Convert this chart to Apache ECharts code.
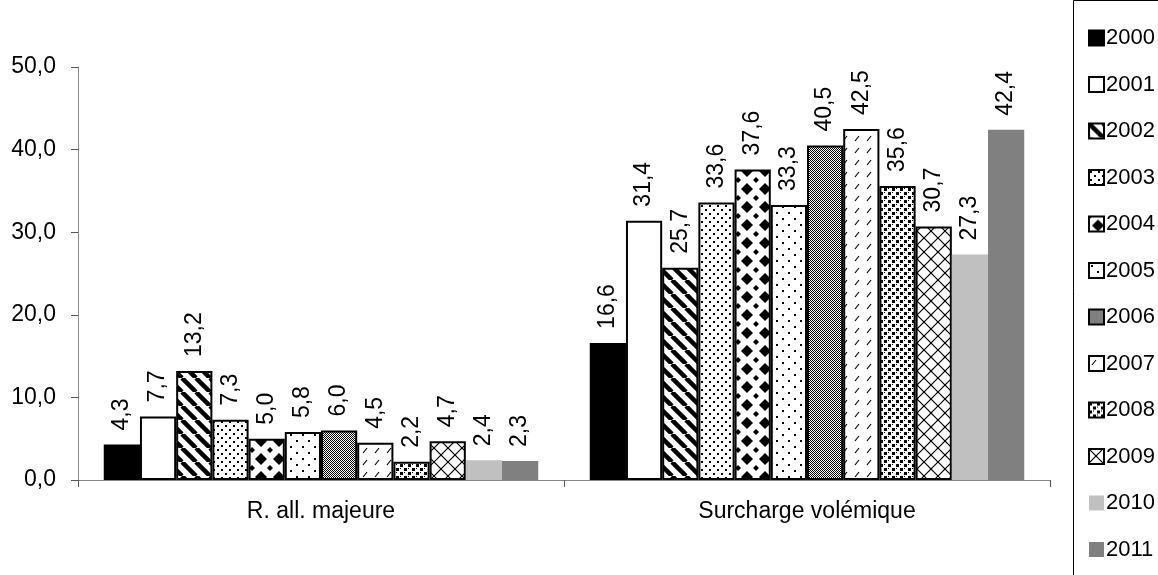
<!DOCTYPE html>
<html><head><meta charset="utf-8">
<script src="https://cdn.jsdelivr.net/npm/echarts@6/dist/echarts.min.js"></script>
<style>html,body{margin:0;padding:0;background:#fff}#c{width:1158px;height:575px}</style>
</head><body><div id="c"></div>
<script>
const categories = ['R. all. majeure', 'Surcharge volémique'];
const years = ['2000','2001','2002','2003','2004','2005','2006','2007','2008','2009','2010','2011'];
const v2000 = [4.3, 16.6];
const v2001 = [7.7, 31.4];
const v2002 = [13.2, 25.7];
const v2003 = [7.3, 33.6];
const v2004 = [5.0, 37.6];
const v2005 = [5.8, 33.3];
const v2006 = [6.0, 40.5];
const v2007 = [4.5, 42.5];
const v2008 = [2.2, 35.6];
const v2009 = [4.7, 30.7];
const v2010 = [2.4, 27.3];
const v2011 = [2.3, 42.4];
const yTicks = [0, 10, 20, 30, 40, 50];
const values = [v2000,v2001,v2002,v2003,v2004,v2005,v2006,v2007,v2008,v2009,v2010,v2011];

function tile(w, h, draw) {
  const c = document.createElement('canvas');
  c.width = w; c.height = h;
  const g = c.getContext('2d');
  g.fillStyle = '#fff'; g.fillRect(0, 0, w, h);
  g.fillStyle = '#000'; g.strokeStyle = '#000';
  draw(g);
  return { image: c, repeat: 'repeat' };
}
const fills = [
  '#000',
  '#fff',
  tile(14, 14, g => {
    g.lineWidth = 4.5;
    for (let k = -14; k <= 28; k += 14) { g.beginPath(); g.moveTo(k, 0); g.lineTo(k + 14, 14); g.stroke(); }
  }),
  tile(8, 8, g => { g.fillRect(1, 1, 2, 2); g.fillRect(5, 5, 2, 2); }),
  tile(18, 18, g => {
    const dia = (x, y, r) => { g.beginPath(); g.moveTo(x, y - r); g.lineTo(x + r, y); g.lineTo(x, y + r); g.lineTo(x - r, y); g.closePath(); g.fill(); };
    dia(9, 9, 6);
    dia(0, 0, 3); dia(18, 0, 3); dia(0, 18, 3); dia(18, 18, 3);
  }),
  tile(12, 12, g => { g.fillRect(2, 2, 2, 2); g.fillRect(8, 8, 2, 2); }),
  tile(2, 2, g => { g.fillRect(0, 0, 1, 1); g.fillRect(1, 1, 1, 1); }),
  tile(12, 12, g => { g.lineWidth = 1.2; g.beginPath(); g.moveTo(3, 9); g.lineTo(7, 4); g.stroke(); }),
  tile(8, 8, g => { g.fillRect(0, 0, 3, 3); g.fillRect(4, 4, 3, 3); g.fillRect(4, 0, 1, 1); g.fillRect(0, 4, 1, 1); }),
  tile(14, 14, g => {
    g.lineWidth = 1.2;
    g.beginPath(); g.moveTo(0, 14); g.lineTo(14, 0); g.stroke();
    g.beginPath(); g.moveTo(0, 0); g.lineTo(14, 14); g.stroke();
  }),
  '#c0c0c0',
  '#808080'
];
const FONT = 'Liberation Sans';
const fmt = v => v.toFixed(1).replace('.', ',');

const series = years.map((y, i) => ({
  name: y,
  type: 'bar',
  data: values[i],
  barGap: '0%',
  barCategoryGap: '10.6%',
  itemStyle: {
    color: fills[i],
    borderColor: i >= 10 ? 'transparent' : '#000',
    borderWidth: i >= 10 ? 0 : 2
  },
  label: {
    show: true, position: 'top', rotate: 90, align: 'left', verticalAlign: 'middle',
    distance: 14, fontFamily: FONT, fontSize: 23, color: '#000',
    formatter: p => fmt(p.value)
  },
  emphasis: { disabled: true },
  animation: false
}));

const chart = echarts.init(document.getElementById('c'));
chart.setOption({
  backgroundColor: '#fff',
  animation: false,
  textStyle: { fontFamily: FONT, fontSize: 23 },
  grid: { left: 78, right: 108, top: 67, bottom: 95 },
  xAxis: {
    type: 'category', data: categories,
    axisLine: { lineStyle: { color: '#888', width: 1 } },
    axisTick: { show: true, length: 7, lineStyle: { color: '#555' } },
    axisLabel: { fontFamily: FONT, fontSize: 23, color: '#000', margin: 20 }
  },
  yAxis: {
    type: 'value', min: 0, max: 50, interval: 10,
    splitLine: { show: false },
    axisLine: { show: true, lineStyle: { color: '#888', width: 1 } },
    axisTick: { show: true, length: 7, lineStyle: { color: '#555' } },
    axisLabel: { fontFamily: FONT, fontSize: 23, color: '#000', margin: 22,
      formatter: v => yTicks.includes(v) ? fmt(v) : '' }
  },
  legend: {
    orient: 'vertical', left: 1083, top: 21,
    data: years,
    icon: 'rect', itemWidth: 15, itemHeight: 15, itemGap: 22.5,
    textStyle: { fontFamily: FONT, fontSize: 22, color: '#000', padding: [0, 0, 0, -3], lineHeight: 24 },
    selectedMode: false
  },
  graphic: [{ type: 'rect', shape: { x: 1073.5, y: 0.5, width: 120, height: 600 }, style: { fill: 'none', stroke: '#000', lineWidth: 1 }, silent: true }],
  series: series
});
</script></body></html>
